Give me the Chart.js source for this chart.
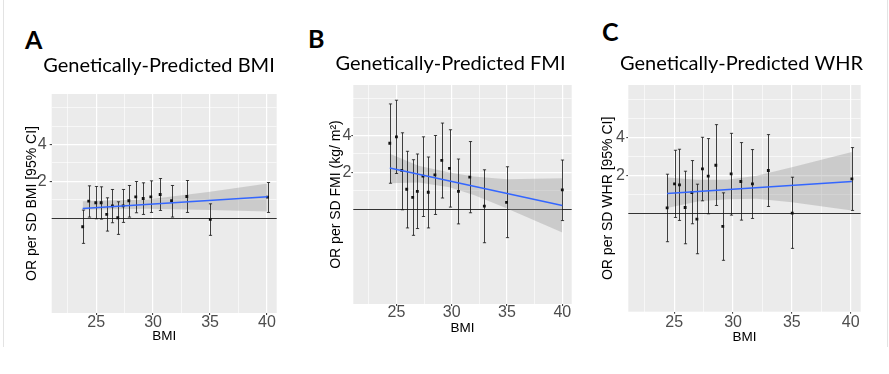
<!DOCTYPE html>
<html><head><meta charset="utf-8">
<script src="https://cdn.jsdelivr.net/npm/chart.js@4.4.1/dist/chart.umd.min.js"></script>
<style>
html,body{margin:0;padding:0;background:#fff;}
#wrap{position:relative;width:889px;height:374px;overflow:hidden;background:#fff;}
canvas{position:absolute;top:0;}
.lbl{position:absolute;font-family:Lato,'Open Sans',sans-serif;font-weight:700;font-size:25px;line-height:25px;color:#000;}
.frame{position:absolute;left:3px;top:0;width:883px;height:347px;border-left:1px solid #e3e3e3;border-right:1px solid #e3e3e3;}
</style></head>
<body><div id="wrap">
<div class="frame"></div>
<div class="lbl" style="left:25px;top:27px">A</div>
<div class="lbl" style="left:308px;top:26px">B</div>
<div class="lbl" style="left:602px;top:19px">C</div>
<canvas id="cA" width="274" height="374" style="left:22px;width:274px;height:374px"></canvas>
<canvas id="cB" width="301" height="374" style="left:300px;width:301px;height:374px"></canvas>
<canvas id="cC" width="283" height="374" style="left:600px;width:283px;height:374px"></canvas>
</div>
<script>
// ---------- shared axis data ----------
const xTickLabels = [25, 30, 35, 40];
const xGridValues = [22.5, 25, 27.5, 30, 32.5, 35, 37.5, 40];
const yTickLabels = [2, 4];
const yGridValues = [1.41, 2, 2.83, 4, 5.66, 8];
const xMin = 21.1, xMax = 40.85;
const yMin = 0.165, yMax = 10.4;
const refOR = 1;
const xAxisTitle = 'BMI';

// ---------- Panel A : Genetically-Predicted BMI ----------
const titleA = 'Genetically-Predicted BMI';
const yTitleA = 'OR per SD BMI [95% CI]';
const bmiA = [23.82, 24.35, 24.97, 25.44, 25.93, 26.43, 26.9, 27.37, 27.87, 28.48, 29.13, 29.8, 30.62, 31.62, 32.96, 35.02, 40.05];
const orA  = [0.844, 1.370, 1.328, 1.328, 1.065, 1.254, 1.000, 1.254, 1.379, 1.487, 1.441, 1.487, 1.554, 1.379, 1.496, 0.969, 1.477];
const loA  = [0.616, 1.013, 0.981, 0.975, 0.777, 0.910, 0.730, 0.916, 1.013, 1.099, 1.065, 1.106, 1.149, 1.013, 1.106, 0.717, 1.106];
const hiA  = [1.156, 1.830, 1.808, 1.796, 1.459, 1.708, 1.353, 1.708, 1.842, 1.986, 1.937, 2.011, 2.102, 1.842, 2.024, 1.302, 1.949];
const fitXA = [23.82, 40.05];
const fitYA = [1.193, 1.487];
const bandXA  = [23.82, 29.5, 35, 40.05];
const bandLoA = [1.163, 1.185, 1.156, 1.127];
const bandHiA = [1.370, 1.414, 1.634, 1.913];

// ---------- Panel B : Genetically-Predicted FMI ----------
const titleB = 'Genetically-Predicted FMI';
const yTitleB = 'OR per SD FMI (kg/ m\u00B2)';
const bmiB = [24.4, 25.0, 25.48, 25.93, 26.47, 26.89, 27.4, 27.88, 28.48, 29.1, 29.8, 30.61, 31.63, 32.95, 34.96, 40.0];
const orB  = [3.456, 3.90, 2.065, 1.446, 1.241, 1.392, 1.853, 1.366, 1.901, 2.498, 2.145, 1.392, 1.818, 1.052, 1.128, 1.428];
const loB  = [1.621, 1.950, 0.981, 0.696, 0.605, 0.688, 0.864, 0.696, 0.898, 1.226, 1.032, 0.751, 0.927, 0.526, 0.579, 0.800];
const hiB  = [7.27, 7.80, 4.21, 2.967, 2.530, 2.819, 3.90, 2.663, 4.00, 5.06, 4.46, 2.563, 3.567, 2.091, 2.214, 2.515];
const fitXB = [24.4, 40.0];
const fitYB = [2.159, 1.066];
const bandXB  = [24.4, 27, 29.8, 32, 35, 40.0];
const bandLoB = [1.621, 1.642, 1.502, 1.298, 1.006, 0.637];
const bandHiB = [2.838, 2.257, 1.987, 1.841, 1.750, 1.784];

// ---------- Panel C : Genetically-Predicted WHR ----------
const titleC = 'Genetically-Predicted WHR';
const yTitleC = 'OR per SD WHR [95% CI]';
const bmiC = [24.4, 25.03, 25.45, 25.93, 26.5, 26.93, 27.4, 27.89, 28.54, 29.13, 29.84, 30.66, 31.65, 33.0, 35.03, 40.1];
const orC  = [1.102, 1.708, 1.677, 1.109, 1.458, 0.896, 2.245, 1.964, 2.400, 0.784, 2.049, 1.782, 1.708, 2.178, 1.000, 1.871];
const loC  = [0.593, 0.924, 0.875, 0.571, 0.823, 0.476, 1.252, 0.988, 1.150, 0.422, 0.964, 0.880, 0.907, 1.129, 0.525, 1.050];
const hiC  = [2.037, 3.156, 3.214, 2.151, 2.613, 1.697, 4.00, 3.904, 5.04, 1.449, 4.30, 3.630, 3.194, 4.20, 1.928, 3.313];
const fitXC = [24.4, 40.1];
const fitYC = [1.432, 1.782];
const bandXC  = [24.4, 27, 29.5, 32, 35, 40.1];
const bandLoC = [1.096, 1.237, 1.291, 1.299, 1.222, 1.050];
const bandHiC = [1.917, 1.837, 1.837, 1.976, 2.315, 3.061];

// ---------- drawing ----------
const pts = (xs, ys) => xs.map((x, i) => ({x: x, y: ys[i]}));
const tickFont = {family: "'Liberation Sans', Arial, sans-serif", size: 16, lineHeight: 1};

function makePanel(id, d, g) {
  const panelPlugin = {
    id: 'panel_' + id,
    beforeDraw(chart) {
      const {ctx, chartArea: a} = chart;
      ctx.save();
      ctx.fillStyle = '#ebebeb';
      ctx.fillRect(a.left, a.top, a.right - a.left, a.bottom - a.top);
      ctx.restore();
    },
    beforeDatasetsDraw(chart) {
      const {ctx, chartArea: a, scales} = chart;
      const py = Math.round(scales.y.getPixelForValue(refOR)) + 0.5;
      ctx.save();
      ctx.strokeStyle = '#333333';
      ctx.lineWidth = 1;
      ctx.beginPath(); ctx.moveTo(a.left, py); ctx.lineTo(a.right, py); ctx.stroke();
      ctx.restore();
    },
    beforeDatasetDraw(chart, args) {
      if (args.index !== 1) return;
      const {ctx, scales} = chart;
      ctx.save();
      ctx.strokeStyle = 'rgba(20,20,20,0.8)';
      ctx.lineWidth = 1;
      d.x.forEach((xv, i) => {
        const px = Math.round(scales.x.getPixelForValue(xv)) + 0.5;
        const pl = scales.y.getPixelForValue(d.lo[i]);
        const ph = scales.y.getPixelForValue(d.hi[i]);
        ctx.beginPath();
        ctx.moveTo(px, pl); ctx.lineTo(px, ph);
        ctx.moveTo(px - 1.6, pl); ctx.lineTo(px + 1.6, pl);
        ctx.moveTo(px - 1.6, ph); ctx.lineTo(px + 1.6, ph);
        ctx.stroke();
      });
      ctx.restore();
    }
  };

  return new Chart(document.getElementById(id), {
    type: 'scatter',
    data: {
      datasets: [
        {data: pts(d.fitX, d.fitY), showLine: true, borderColor: '#3366ff', borderWidth: 1.5,
         pointRadius: 0, fill: false, order: 0, yAxisID: 'y'},
        {data: pts(d.x, d.or), pointStyle: 'rect', pointRadius: 2, backgroundColor: '#111',
         borderWidth: 0, order: 1, yAxisID: 'y'},
        {data: pts(d.bandX, d.bandHi), showLine: true, borderColor: 'rgba(0,0,0,0)', borderWidth: 0,
         pointRadius: 0, fill: false, order: 3, yAxisID: 'y'},
        {data: pts(d.bandX, d.bandLo), showLine: true, borderColor: 'rgba(0,0,0,0)', borderWidth: 0,
         pointRadius: 0, fill: '-1', backgroundColor: 'rgba(153,153,153,0.38)', order: 3, yAxisID: 'y'}
      ]
    },
    options: {
      responsive: false, animation: false, devicePixelRatio: 1,
      events: [],
      layout: {padding: {left: 0, right: 0, top: g.padTop, bottom: g.padBottom}},
      plugins: {
        legend: {display: false},
        tooltip: {enabled: false},
        title: {display: true, text: d.title, align: 'center', color: '#000',
                font: {family: "Lato, 'Open Sans', sans-serif", size: 20, weight: 'normal', lineHeight: 1.2},
                padding: {top: 0, bottom: g.titleGap}}
      },
      scales: {
        x: {
          type: 'linear', position: 'bottom', min: xMin, max: xMax,
          afterBuildTicks: s => { s.ticks = xGridValues.map(v => ({value: v})); },
          afterFit: s => { s.height = g.xAxisH; },
          ticks: {autoSkip: false, maxRotation: 0, minRotation: 0, padding: g.xTickPad, color: '#4d4d4d',
                  font: tickFont, callback: v => xTickLabels.includes(v) ? String(v) : ''},
          grid: {color: '#ffffff', tickLength: 2, tickWidth: 1,
                 lineWidth: c => (c.tick && xTickLabels.includes(c.tick.value)) ? 1.2 : 0.6,
                 tickColor: c => (c.tick && xTickLabels.includes(c.tick.value)) ? '#333' : 'rgba(0,0,0,0)'},
          border: {display: false},
          title: {display: true, text: xAxisTitle, color: '#000',
                  font: {family: "'Liberation Sans', Arial, sans-serif", size: 13.5, lineHeight: 1.2},
                  padding: {top: 0, bottom: 0}}
        },
        y: {
          type: 'logarithmic', position: 'left', min: yMin, max: yMax,
          afterBuildTicks: s => { s.ticks = yGridValues.map(v => ({value: v})); },
          afterFit: s => { s.width = g.yAxisW; },
          ticks: {autoSkip: false, padding: g.yTickPad, color: '#4d4d4d', font: tickFont,
                  callback: v => yTickLabels.includes(v) ? String(v) : ''},
          grid: {color: '#ffffff', tickLength: 2, tickWidth: 1,
                 lineWidth: c => (c.tick && yTickLabels.includes(c.tick.value)) ? 1.2 : 0.6,
                 tickColor: c => (c.tick && yTickLabels.includes(c.tick.value)) ? '#333' : 'rgba(0,0,0,0)'},
          border: {display: false},
          title: {display: true, text: d.yTitle, color: '#000',
                  font: {family: "'Liberation Sans', Arial, sans-serif", size: 14, lineHeight: 1.2},
                  padding: {top: g.yTitlePad, bottom: 0}}
        },
        yPad: {
          type: 'linear', position: 'right', display: true,
          afterFit: s => { s.width = g.rightW; },
          ticks: {display: false}, grid: {display: false, drawTicks: false},
          border: {display: false}, title: {display: false}
        }
      }
    },
    plugins: [panelPlugin]
  });
}

makePanel('cA',
  {title: titleA, yTitle: yTitleA, x: bmiA, or: orA, lo: loA, hi: hiA,
   fitX: fitXA, fitY: fitYA, bandX: bandXA, bandLo: bandLoA, bandHi: bandHiA},
  {padTop: 53.5, titleGap: 16.5, xAxisH: 31.8, padBottom: 29.2, xTickPad: -0.3,
   yAxisW: 29.7, yTickPad: 3, yTitlePad: 1.4, rightW: 19.3});

makePanel('cB',
  {title: titleB, yTitle: yTitleB, x: bmiB, or: orB, lo: loB, hi: hiB,
   fitX: fitXB, fitY: fitYB, bandX: bandXB, bandLo: bandLoB, bandHi: bandHiB},
  {padTop: 51.7, titleGap: 9.3, xAxisH: 32.1, padBottom: 37.9, xTickPad: -1,
   yAxisW: 53.3, yTickPad: 0, yTitlePad: 27.9, rightW: 29.3});

makePanel('cC',
  {title: titleC, yTitle: yTitleC, x: bmiC, or: orC, lo: loC, hi: hiC,
   fitX: fitXC, fitY: fitYC, bandX: bandXC, bandLo: bandLoC, bandHi: bandHiC},
  {padTop: 51.7, titleGap: 9.3, xAxisH: 33.9, padBottom: 28.4, xTickPad: 0.8,
   yAxisW: 28.3, yTickPad: 1.3, yTitlePad: 0, rightW: 22.3});
</script>
</body></html>
